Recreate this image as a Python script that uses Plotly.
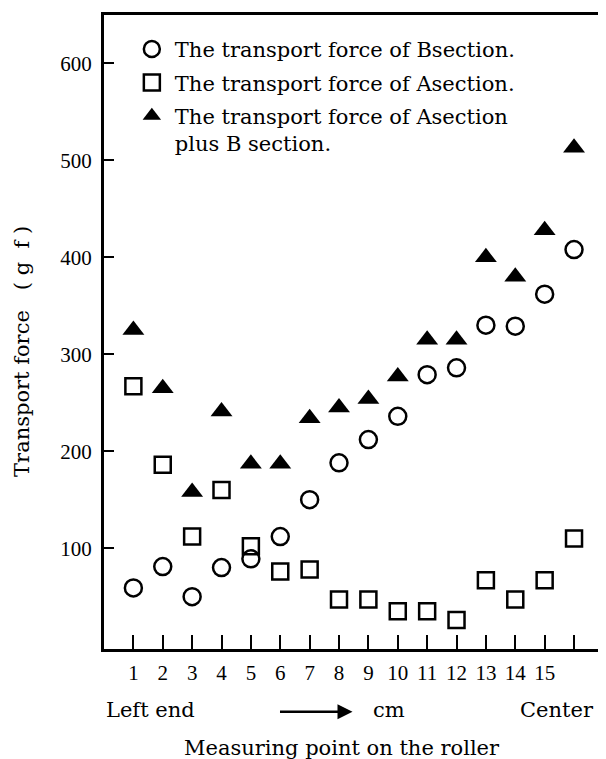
import plotly.graph_objects as go

points = list(range(1, 17))
b_section = [59, 81, 50, 80, 89, 112, 150, 188, 212, 236, 279, 286, 330, 329, 362, 408]
a_section = [267, 186, 112, 160, 102, 76, 78, 47, 47, 35, 35, 26, 67, 47, 67, 110]
a_plus_b = [325, 265, 158, 241, 187, 187, 234, 245, 254, 277, 315, 315, 400, 380, 428, 513]
x_tick_vals = list(range(1, 17))
x_tick_text = [str(i) for i in range(1, 16)] + [""]
y_tick_vals = [100, 200, 300, 400, 500, 600]

# page body has an 8px margin; figure is shifted accordingly
OFF = 8
W, H = 606 - OFF, 759 - OFF
L, T = 104 - OFF, 12 - OFF
R = W - (602 - OFF)
B = H - (649 - OFF)
pw = W - L - R
ph = H - T - B

def px(xr):  # reference-picture x pixel -> paper
    return (xr - OFF - L) / pw

def py(yr):  # reference-picture y pixel -> paper
    return (H - B - (yr - OFF)) / ph

fig = go.Figure()
fig.add_trace(go.Scatter(
    x=points, y=b_section, mode="markers",
    name="The transport force of Bsection.", legendgroup="b",
    marker=dict(symbol="circle-open", size=17, color="black", line=dict(width=2.5, color="black")),
))
fig.add_trace(go.Scatter(
    x=points, y=a_section, mode="markers",
    name="The transport force of Asection.", legendgroup="a",
    marker=dict(symbol="square-open", size=16, color="black", line=dict(width=2.5, color="black")),
))
fig.add_trace(go.Scatter(
    x=points, y=a_plus_b, mode="markers",
    name="The transport force of Asection<br>plus B section.", legendgroup="ab",
    marker=dict(symbol="triangle-up", size=19, color="black", line=dict(width=0)),
))

fig.update_layout(
    width=W, height=H,
    margin=dict(l=L, r=R, t=T, b=B),
    paper_bgcolor="white", plot_bgcolor="white",
    showlegend=True,
    legend=dict(
        x=px(129), y=py(26), xanchor="left", yanchor="top",
        bgcolor="rgba(0,0,0,0)", borderwidth=0,
        font=dict(family="DejaVu Serif", size=21, color="black"),
        tracegroupgap=3, valign="top", itemwidth=36,
        traceorder="grouped",
    ),
    xaxis=dict(
        range=[0, 16.85], tickvals=x_tick_vals, ticktext=x_tick_text,
        ticks="inside", ticklen=14, tickwidth=2, tickcolor="black",
        showline=True, linewidth=3, linecolor="black", mirror=True,
        showgrid=False, zeroline=False,
        tickfont=dict(family="Liberation Serif", size=21, color="black"),
        ticklabelstandoff=3,
    ),
    yaxis=dict(
        range=[-4, 650], tickvals=y_tick_vals,
        ticks="inside", ticklen=10, tickwidth=2, tickcolor="black",
        showline=True, linewidth=3, linecolor="black", mirror=True,
        showgrid=False, zeroline=False,
        tickfont=dict(family="Liberation Serif", size=21, color="black"),
        ticklabelstandoff=5,
    ),
)

txt_font = dict(family="DejaVu Serif", size=21, color="black")
NB = "\u00a0"
ytitle = "Transport force" + NB * 3 + "(" + NB + "g" + NB * 2 + "f" + NB + ")"
fig.add_annotation(x=px(22), y=py(350), xref="paper", yref="paper",
                   xanchor="center", yanchor="middle",
                   text=ytitle, textangle=-90,
                   showarrow=False, font=txt_font)
fig.add_annotation(x=px(104), y=py(710), xref="paper", yref="paper",
                   xanchor="left", yanchor="middle",
                   text="Left end", showarrow=False, font=txt_font)
fig.add_annotation(x=px(373), y=py(710), xref="paper", yref="paper",
                   xanchor="left", yanchor="middle",
                   text="cm", showarrow=False, font=txt_font)
fig.add_annotation(x=px(599), y=py(710), xref="paper", yref="paper",
                   xanchor="right", yanchor="middle",
                   text="Center", showarrow=False, font=txt_font)
fig.add_annotation(x=px(343), y=py(748), xref="paper", yref="paper",
                   xanchor="center", yanchor="middle",
                   text="Measuring point on the roller", showarrow=False, font=txt_font)
fig.add_annotation(x=px(354), y=py(712), xref="paper", yref="paper",
                   ax=-74, ay=0, axref="pixel", ayref="pixel",
                   text="", showarrow=True, arrowhead=2, arrowsize=1.2,
                   arrowwidth=2.5, arrowcolor="black")

fig.write_html("out.html")
